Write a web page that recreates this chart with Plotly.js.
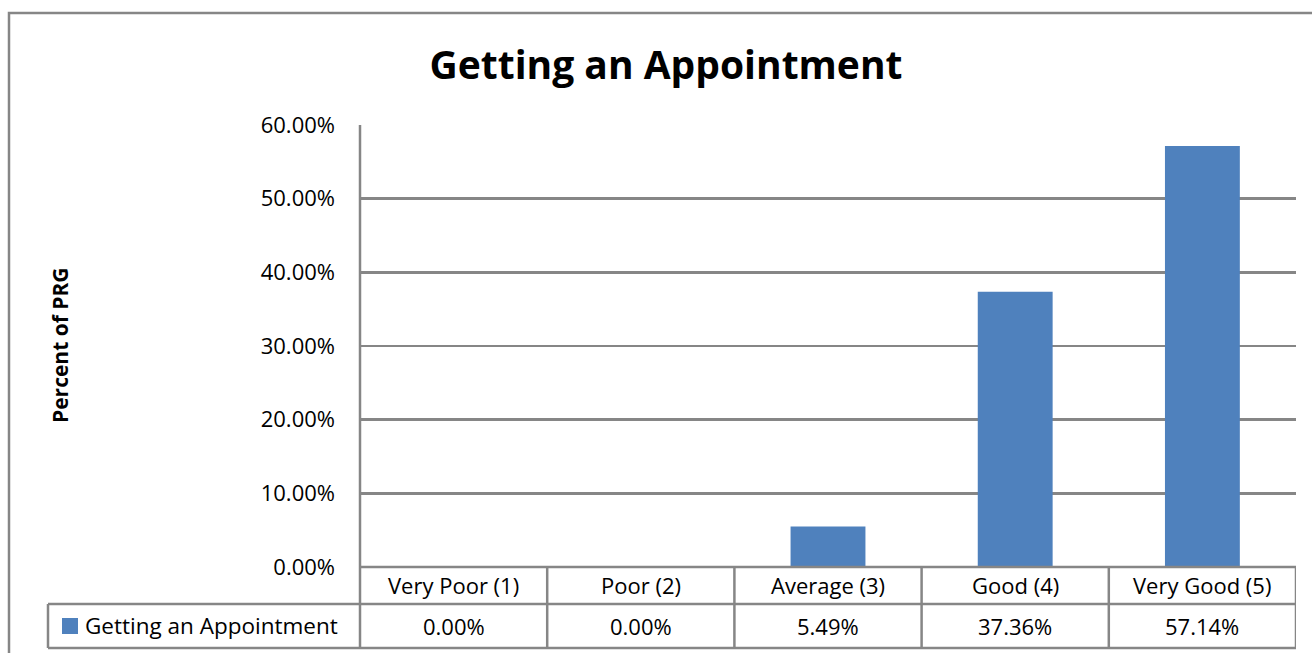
<!DOCTYPE html>
<html>
<head>
<meta charset="utf-8">
<script src="https://cdn.plot.ly/plotly-3.0.1.min.js"></script>
<style>html,body{margin:0;padding:0;background:#fff;}#chart{width:1312px;height:653px;}</style>
</head>
<body>
<div id="chart"></div>
<script>
const categories = ["Very Poor (1)", "Poor (2)", "Average (3)", "Good (4)", "Very Good (5)"];
const values = [0.00, 0.00, 5.49, 37.36, 57.14];
const seriesName = "Getting an Appointment";
const yTicks = [0, 10, 20, 30, 40, 50, 60];

const W = 1312, H = 653;
const L = 360, R = 1296, T = 125, B = 567;
const pw = R - L, ph = B - T;
const px = x => (x - L) / pw;
const py = y => (B - y) / ph;

const FONT = "'Open Sans', 'Noto Sans', sans-serif";
const GRID = "#868686";
const BLUE = "#4F81BD";

const rowHeadBottom = 604, rowValBottom = 648, legendLeft = 48;

const shapes = [];
const line = (xref, x0, x1, y0, y1, w) => shapes.push({type: 'line', xref: xref, yref: 'paper', x0: x0, x1: x1, y0: y0, y1: y1, line: {color: GRID, width: w || 2.5}, layer: 'above'});

// outer chart border
shapes.push({type: 'rect', xref: 'paper', yref: 'paper', x0: px(9), x1: px(1330), y0: py(670), y1: py(13), line: {color: GRID, width: 2.5}, layer: 'below'});
// axis line left
line('paper', 0, 0, py(rowValBottom), 1);
// table horizontal lines
line('paper', 0, 1, py(B), py(B));
line('paper', px(legendLeft), 1, py(rowHeadBottom), py(rowHeadBottom));
line('paper', px(legendLeft), 1, py(rowValBottom), py(rowValBottom));
line('paper', px(legendLeft), px(legendLeft), py(rowValBottom), py(rowHeadBottom));
// vertical category separators
for (let i = 0; i < categories.length; i++) {
  line('x', i + 0.5, i + 0.5, py(rowValBottom), py(B));
}
// legend swatch
shapes.push({type: 'rect', xref: 'paper', yref: 'paper', x0: px(62), x1: px(78), y0: py(634), y1: py(618), fillcolor: BLUE, line: {width: 0}, layer: 'above'});

const annotations = [];
categories.forEach((c, i) => {
  annotations.push({xref: 'x', yref: 'paper', x: i, y: py((B + rowHeadBottom) / 2 - 0.5), text: c, showarrow: false, font: {family: FONT, size: 22, color: '#000'}, xanchor: 'center', yanchor: 'middle'});
  annotations.push({xref: 'x', yref: 'paper', x: i, y: py((rowHeadBottom + rowValBottom) / 2 - 0.5), text: values[i].toFixed(2) + '%', showarrow: false, font: {family: FONT, size: 22, color: '#000'}, xanchor: 'center', yanchor: 'middle'});
});
annotations.push({xref: 'paper', yref: 'paper', x: px(83), y: py((rowHeadBottom + rowValBottom) / 2 - 0.5), text: seriesName, showarrow: false, font: {family: FONT, size: 22.5, color: '#000'}, xanchor: 'left', yanchor: 'middle'});
annotations.push({xref: 'paper', yref: 'paper', x: px(60), y: py(345), text: '<b>Percent of PRG</b>', textangle: -90, showarrow: false, font: {family: FONT, size: 21, color: '#000'}, xanchor: 'center', yanchor: 'middle'});

const data = [{
  type: 'bar', x: categories, y: values, name: seriesName,
  marker: {color: BLUE, line: {width: 0}}, hoverinfo: 'skip'
}];

const layout = {
  width: W, height: H,
  margin: {l: L, r: W - R, t: T, b: H - B, pad: 0},
  paper_bgcolor: '#fff', plot_bgcolor: '#fff',
  showlegend: false,
  bargap: 0.6,
  title: {text: '<b>Getting an Appointment</b>', x: 666 / W, xanchor: 'center', y: 1 - 65 / H, yanchor: 'middle', font: {family: FONT, size: 39, color: '#000'}},
  xaxis: {type: 'category', showticklabels: false, ticks: '', showgrid: false, zeroline: false, showline: false, range: [-0.5, 4.5], fixedrange: true},
  yaxis: {range: [0, 60], tickvals: yTicks, ticktext: yTicks.map(v => v.toFixed(2) + '%'), showgrid: true, gridcolor: GRID, gridwidth: 2.5, zeroline: false, showline: false, ticks: '', ticklabelstandoff: 24, tickfont: {family: FONT, size: 22, color: '#000'}, fixedrange: true},
  shapes: shapes,
  annotations: annotations
};

Plotly.newPlot('chart', data, layout, {displayModeBar: false, staticPlot: true});
</script>
</body>
</html>
